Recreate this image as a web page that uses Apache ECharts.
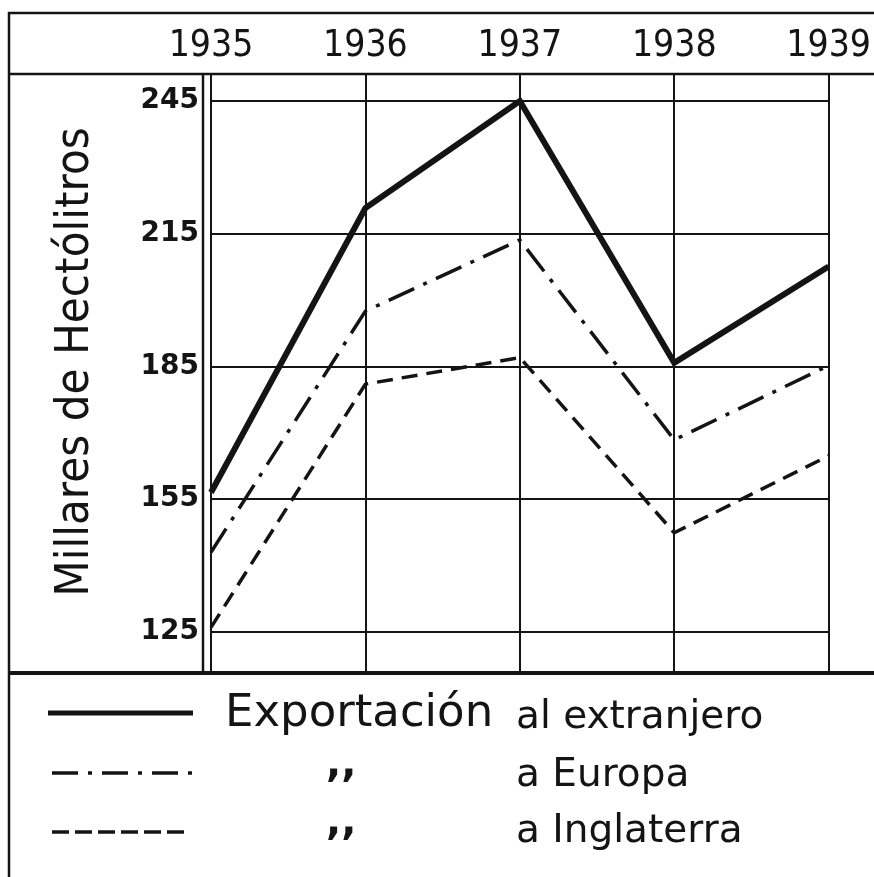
<!DOCTYPE html>
<html>
<head>
<meta charset="utf-8">
<script src="https://cdn.jsdelivr.net/npm/echarts@6/dist/echarts.min.js"></script>
<style>
  html, body { margin: 0; padding: 0; background: #ffffff; }
  #chart { width: 874px; height: 877px; }
</style>
</head>
<body>
<div id="chart"></div>
<script>
// ---- data ----
var years = ['1935', '1936', '1937', '1938', '1939'];
var extranjero = [156.5, 220.8, 245, 185.8, 207.6];
var europa = [143, 197.5, 213.6, 168.4, 185.2];
var inglaterra = [126, 181, 187, 147.4, 164.8];
var yTicks = [245, 215, 185, 155, 125];
var yTitle = 'Millares de Hectólitros';
var legendMain = 'Exportación';
var legendRest = ['al extranjero', 'a Europa', 'a Inglaterra'];
var ditto = ',,';

var INK = '#141414';
var chart = echarts.init(document.getElementById('chart'), null, { renderer: 'canvas' });

var option = {
  backgroundColor: '#ffffff',
  animation: false,
  grid: { left: 211, right: 39, top: 74, bottom: 204, containLabel: false },
  xAxis: {
    type: 'category',
    position: 'top',
    data: years,
    boundaryGap: false,
    axisLine: { show: false },
    axisTick: { show: false },
    axisLabel: {
      show: true,
      interval: 0,
      margin: 9,
      color: INK,
      fontFamily: 'DejaVu Sans Condensed, sans-serif',
      fontSize: 37
    },
    splitLine: { show: true, interval: 0, lineStyle: { color: INK, width: 2 } }
  },
  yAxis: {
    type: 'value',
    min: 115.7,
    max: 251.1,
    axisLine: { show: false },
    axisTick: { show: false },
    axisLabel: { show: false },
    splitLine: { show: false }
  },
  series: [
    {
      name: 'al extranjero',
      type: 'line',
      data: extranjero,
      symbol: 'none',
      lineStyle: { color: INK, width: 6, type: 'solid', join: 'miter' },
      z: 5,
      markLine: {
        silent: true,
        symbol: ['none', 'none'],
        lineStyle: { color: INK, width: 2, type: 'solid' },
        label: {
          show: true,
          position: 'start',
          distance: 12,
          formatter: function (p) { return String(p.value); },
          color: INK,
          fontFamily: 'DejaVu Sans',
          fontWeight: 'bold',
          fontSize: 28
        },
        emphasis: { disabled: true },
        data: yTicks.map(function (v) { return { yAxis: v }; }),
        z: 1
      }
    },
    {
      name: 'a Europa',
      type: 'line',
      data: europa,
      symbol: 'none',
      lineStyle: { color: INK, width: 3.5, type: [28, 10, 4, 10], cap: 'butt' },
      z: 4
    },
    {
      name: 'a Inglaterra',
      type: 'line',
      data: inglaterra,
      symbol: 'none',
      lineStyle: { color: INK, width: 3.5, type: [16, 9], cap: 'butt' },
      z: 4
    }
  ],
  graphic: [
    // frame
    { type: 'line', shape: { x1: 8, y1: 13, x2: 874, y2: 13 }, style: { stroke: INK, lineWidth: 2.5 } },
    { type: 'line', shape: { x1: 8, y1: 74, x2: 874, y2: 74 }, style: { stroke: INK, lineWidth: 2.5 } },
    { type: 'line', shape: { x1: 9, y1: 12, x2: 9, y2: 877 }, style: { stroke: INK, lineWidth: 2.5 } },
    { type: 'line', shape: { x1: 203, y1: 74, x2: 203, y2: 673 }, style: { stroke: INK, lineWidth: 2.5 } },
    { type: 'line', shape: { x1: 8, y1: 673, x2: 874, y2: 673 }, style: { stroke: INK, lineWidth: 4 } },
    // y title
    {
      type: 'text', x: 76, y: 362, rotation: Math.PI / 2,
      style: {
        text: yTitle, fill: INK, align: 'center', verticalAlign: 'middle',
        font: '47px "DejaVu Sans Condensed", sans-serif'
      }
    },
    // legend samples
    { type: 'line', shape: { x1: 48, y1: 713, x2: 193, y2: 713 }, style: { stroke: INK, lineWidth: 5 } },
    { type: 'line', shape: { x1: 52, y1: 773, x2: 193, y2: 773 }, style: { stroke: INK, lineWidth: 3.5, lineDash: [26, 10, 4, 10] } },
    { type: 'line', shape: { x1: 52, y1: 832, x2: 190, y2: 832 }, style: { stroke: INK, lineWidth: 3.5, lineDash: [17, 6] } },
    // legend texts
    {
      type: 'text', x: 225, y: 714,
      style: { text: legendMain, fill: INK, align: 'left', verticalAlign: 'middle',
        font: '45px "DejaVu Sans", sans-serif' }
    },
    {
      type: 'text', x: 516, y: 718,
      style: { text: legendRest[0], fill: INK, align: 'left', verticalAlign: 'middle',
        font: '39px "DejaVu Sans", sans-serif' }
    },
    {
      type: 'text', x: 326, y: 766,
      style: { text: ditto, fill: INK, align: 'left', verticalAlign: 'middle',
        font: 'bold 40px "DejaVu Sans", sans-serif' }
    },
    {
      type: 'text', x: 516, y: 776,
      style: { text: legendRest[1], fill: INK, align: 'left', verticalAlign: 'middle',
        font: '39px "DejaVu Sans", sans-serif' }
    },
    {
      type: 'text', x: 326, y: 824,
      style: { text: ditto, fill: INK, align: 'left', verticalAlign: 'middle',
        font: 'bold 40px "DejaVu Sans", sans-serif' }
    },
    {
      type: 'text', x: 516, y: 832,
      style: { text: legendRest[2], fill: INK, align: 'left', verticalAlign: 'middle',
        font: '39px "DejaVu Sans", sans-serif' }
    }
  ]
};
chart.setOption(option);
</script>
</body>
</html>
